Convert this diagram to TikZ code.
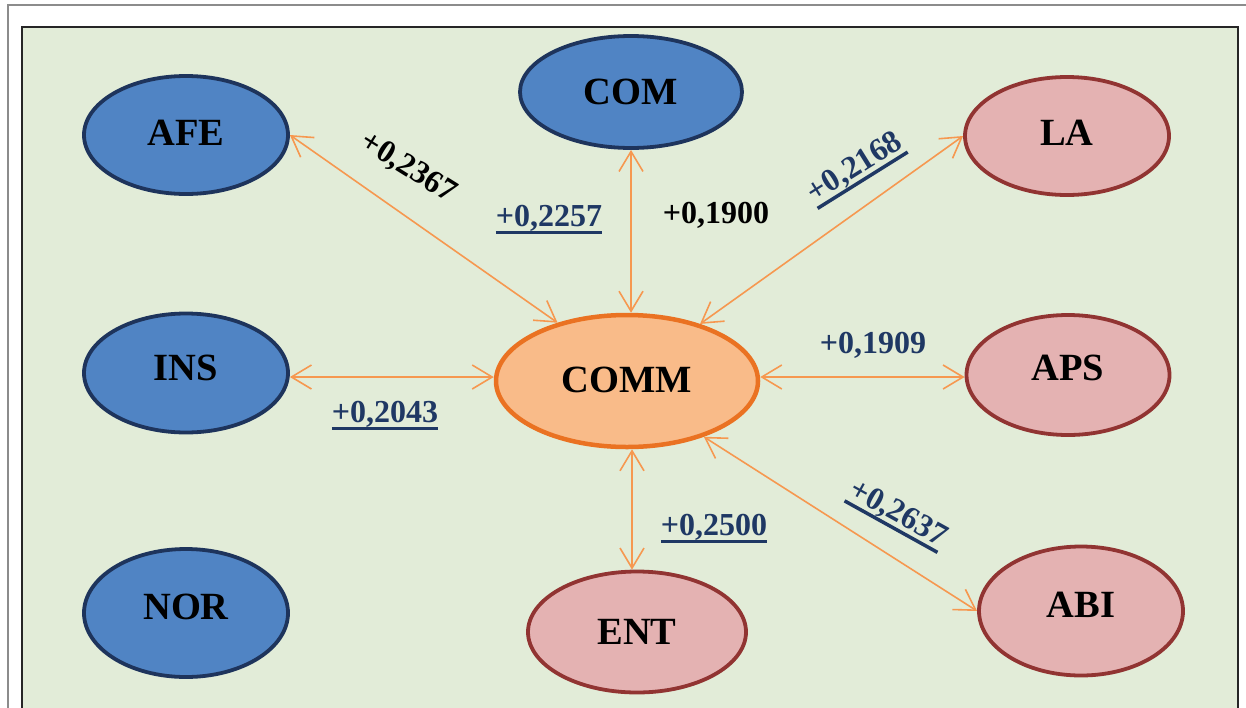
\documentclass[tikz,border=0pt]{standalone}
\usepackage{fontspec}
\setmainfont{Liberation Serif}
\usetikzlibrary{shapes.geometric,arrows.meta}
\definecolor{bggreen}{RGB}{226,236,216}
\definecolor{bluefill}{RGB}{80,132,196}
\definecolor{blueline}{RGB}{30,52,92}
\definecolor{pinkfill}{RGB}{228,178,178}
\definecolor{redline}{RGB}{145,52,50}
\definecolor{orangefill}{RGB}{249,187,137}
\definecolor{orangeline}{RGB}{234,114,34}
\definecolor{conncol}{RGB}{246,152,80}
\definecolor{lblblue}{RGB}{31,56,100}
\newcommand\myul[1]{\setbox0\hbox{#1}\rlap{\smash{\raisebox{-8pt}{\rule{\wd0}{3.5pt}}}}\box0}
\newcommand\ctxt[2]{\raisebox{\dimexpr-12.8pt+#1pt\relax}[0pt][0pt]{#2}}
\begin{document}
\begin{tikzpicture}[x=1pt,y=-1pt,
  every node/.style={font=\bfseries\fontsize{38.5}{42}\selectfont, inner sep=0pt},
  blueell/.style={ellipse, draw=blueline, fill=bluefill, line width=3.8pt},
  pinkell/.style={ellipse, draw=redline, fill=pinkfill, line width=3.8pt},
  orangeell/.style={ellipse, draw=orangeline, fill=orangefill, line width=4.5pt},
  link/.style={draw=conncol, line width=1.6pt, >={Straight Barb[length=20pt,width=24pt]}, <->},
  lbl/.style={font=\bfseries\fontsize{32}{35}\selectfont},
  lblb/.style={lbl, text=lblblue}]
\useasboundingbox (0,0) rectangle (1246,707);
\fill[white] (0,0) rectangle (1246,707);
\draw[black!45, line width=1.5pt] (8,712) -- (8,5) -- (1250,5);
\draw[fill=bggreen, draw=black!85, line width=2pt] (22,715) -- (22,27) -- (1238,27) -- (1238,715);
% nodes
\node[blueell, minimum width=204pt, minimum height=118pt] (AFE) at (186,135) {\ctxt{2}{AFE}};
\node[blueell, minimum width=222pt, minimum height=112pt] (COM) at (631,92) {\ctxt{0}{COM}};
\node[pinkell, minimum width=204pt, minimum height=118pt] (LA) at (1067,136) {\ctxt{3}{LA}};
\node[blueell, minimum width=204pt, minimum height=119pt] (INS) at (186,373) {\ctxt{5}{INS}};
\node[orangeell, minimum width=262pt, minimum height=132pt] (COMM) at (627,381) {\ctxt{1}{COMM}};
\node[pinkell, minimum width=203pt, minimum height=120pt] (APS) at (1068,375) {\ctxt{7}{APS}};
\node[blueell, minimum width=204pt, minimum height=128pt] (NOR) at (186,613) {\ctxt{6}{NOR}};
\node[pinkell, minimum width=218pt, minimum height=121pt] (ENT) at (637,632) {\ctxt{0}{ENT}};
\node[pinkell, minimum width=204pt, minimum height=129pt] (ABI) at (1081,611) {\ctxt{6}{ABI}};
% connectors
\draw[link] (AFE.east) -- (COMM.140);
\draw[link] (COM.south) -- ([xshift=4pt]COMM.north);
\draw[link] (LA.west) -- (COMM.38);
\draw[link] ([yshift=-4pt]INS.east) -- ([yshift=4pt]COMM.west);
\draw[link] ([yshift=4pt]COMM.east) -- ([yshift=-2pt]APS.west);
\draw[link] ([xshift=5pt]COMM.south) -- ([xshift=-5pt]ENT.north);
\draw[link] (COMM.-36) -- (ABI.west);
% labels
\node[lbl, rotate=-32] (l1) at (408,168) {+0,2367};
\node[lblb, anchor=base] (l2) at (549,226) {\myul{+0,2257}};
\node[lbl, anchor=base] (l3) at (716,223) {+0,1900};
\node[lblb, rotate=32] (l4) at (855,168) {\myul{+0,2168}};
\node[lblb, anchor=base] (l5) at (385,422) {\myul{+0,2043}};
\node[lblb, anchor=base] (l6) at (873,353) {+0,1909};
\node[lblb, anchor=base] (l7) at (714,535) {\myul{+0,2500}};
\node[lblb, rotate=-29] (l8) at (898,514) {\myul{+0,2637}};
\end{tikzpicture}
\end{document}
